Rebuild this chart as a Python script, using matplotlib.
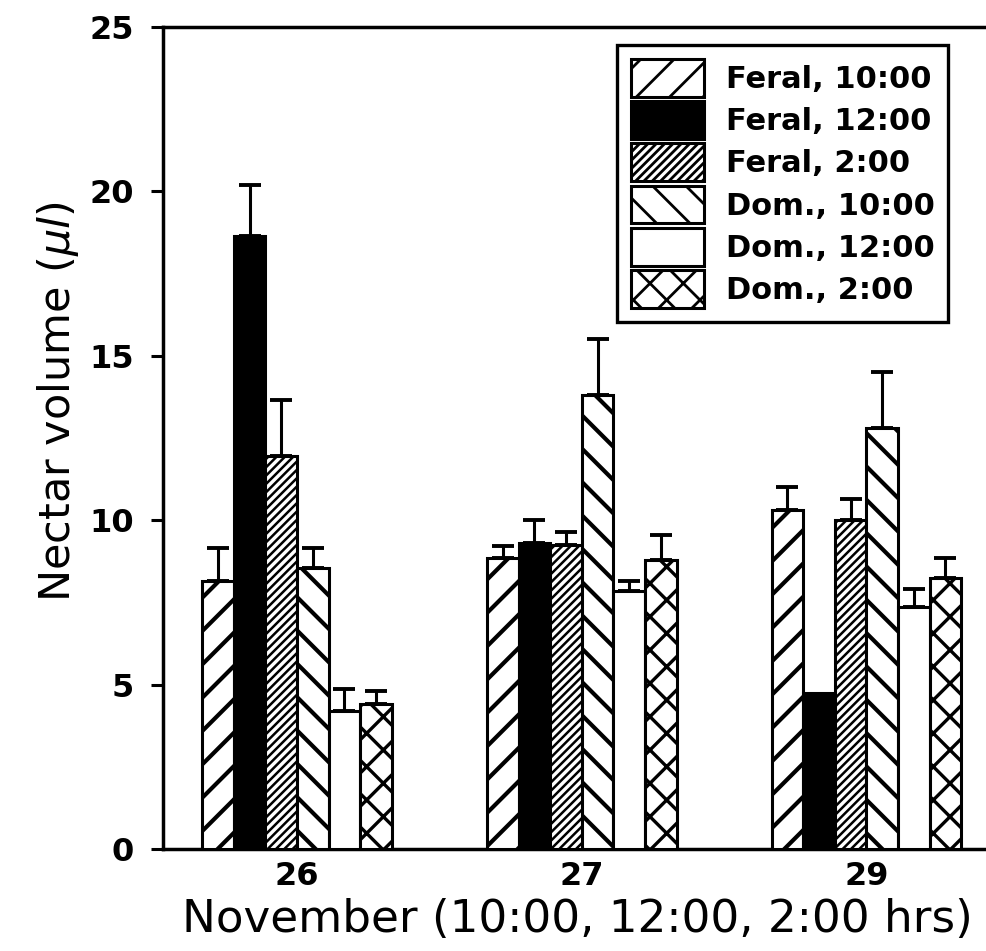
import matplotlib
matplotlib.use("Agg")
import matplotlib.pyplot as plt
import numpy as np

# days of November and sampling times
days = ["26", "27", "29"]
series = ["Feral, 10:00", "Feral, 12:00", "Feral, 2:00",
          "Dom., 10:00", "Dom., 12:00", "Dom., 2:00"]

# mean nectar volume (ul) per series, one value per day
feral_10 = [8.15, 8.85, 10.3]
feral_12 = [18.65, 9.3, 4.75]
feral_2 = [11.95, 9.25, 10.0]
dom_10 = [8.55, 13.8, 12.8]
dom_12 = [4.2, 7.85, 7.35]
dom_2 = [4.4, 8.8, 8.25]

# upper error (SE) per series
feral_10_err = [1.0, 0.35, 0.7]
feral_12_err = [1.55, 0.7, 0.0]
feral_2_err = [1.7, 0.4, 0.65]
dom_10_err = [0.6, 1.7, 1.7]
dom_12_err = [0.65, 0.3, 0.55]
dom_2_err = [0.4, 0.75, 0.6]

values = [feral_10, feral_12, feral_2, dom_10, dom_12, dom_2]
errors = [feral_10_err, feral_12_err, feral_2_err, dom_10_err, dom_12_err, dom_2_err]
faces = ["white", "black", "white", "white", "white", "white"]
hatches = ["//", None, "////////", "\\\\", None, "xx"]
hatch_lw = [1.5, 1.0, 0.9, 1.5, 1.0, 1.2]

plt.rcParams["font.family"] = "DejaVu Sans"

fig = plt.figure(figsize=(4.93, 4.755), dpi=200)
ax = fig.add_axes([0.1653, 0.1073, 0.8347, 0.8643])

x = np.arange(len(days))
w = 0.111

for i, (vals, errs) in enumerate(zip(values, errors)):
    pos = x + (i - 2.5) * w
    bars = ax.bar(pos, vals, w, color=faces[i], edgecolor="black",
                  linewidth=1.1, hatch=hatches[i], label=series[i], zorder=3)
    for b in bars:
        if hasattr(b, "set_hatch_linewidth"):
            b.set_hatch_linewidth(hatch_lw[i])
    e = np.array(errs)
    keep = e > 0
    ax.errorbar(pos[keep], np.array(vals)[keep],
                yerr=[np.zeros(keep.sum()), e[keep]], fmt="none",
                ecolor="black", elinewidth=1.1, capsize=4, capthick=1.4, zorder=2)

ax.set_xlim(-0.471, 2.42)
ax.set_ylim(0, 25)
ax.set_yticks([0, 5, 10, 15, 20, 25])
ax.set_xticks(x)
ax.set_xticklabels(days, fontsize=11.5, fontweight="bold")
ax.tick_params(axis="x", length=0, pad=4.5)
ax.tick_params(axis="y", direction="out", length=4.5, width=1.1, pad=6,
               labelsize=11.5)
for lab in ax.get_yticklabels():
    lab.set_fontweight("bold")

for side in ["left", "bottom", "top"]:
    ax.spines[side].set_linewidth(1.25)
ax.spines["right"].set_visible(False)

ax.set_ylabel(r"Nectar volume ($\mu l$)", fontsize=15.5)
ax.yaxis.set_label_coords(-0.1, 0.544)
ax.set_xlabel("November (10:00, 12:00, 2:00 hrs)", fontsize=16.3)
ax.xaxis.set_label_coords(0.503, -0.06)

leg = ax.legend(loc="upper right", bbox_to_anchor=(0.954, 0.978),
                borderaxespad=0, fancybox=False, edgecolor="black",
                framealpha=1, handlelength=2.4, handleheight=1.52,
                labelspacing=0.15, handletextpad=0.7, borderpad=0.45,
                prop={"weight": "bold", "size": 11})
leg.get_frame().set_linewidth(1.2)
for h in leg.legend_handles:
    h.set_linewidth(1.1)

fig.savefig("out.png", dpi=200)
